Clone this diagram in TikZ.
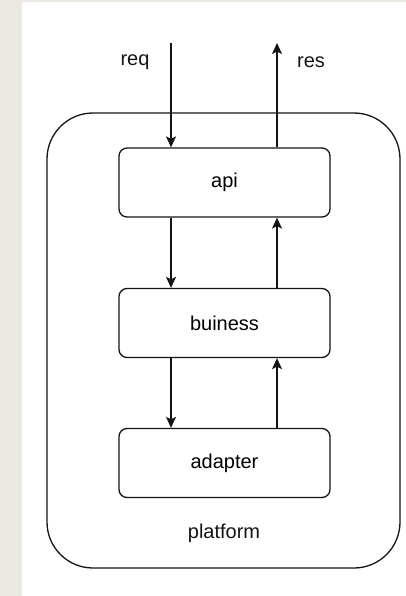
\documentclass[tikz,border=0pt]{standalone}
\usepackage{fontspec}
\setmainfont{Liberation Sans}
\usetikzlibrary{arrows.meta}
\definecolor{paper}{RGB}{236,232,228}
\definecolor{ink}{RGB}{20,20,20}
\begin{document}
\begin{tikzpicture}[x=1pt,y=-1pt,
  box/.style={draw=ink,line width=1.3pt,rounded corners=8pt,minimum width=211pt,minimum height=69pt,inner sep=0pt,font=\fontsize{20}{24}\selectfont},
  lbl/.style={font=\fontsize{20}{24}\selectfont,inner sep=0pt,text=ink},
  arr/.style={draw=ink,line width=1.3pt,-{Stealth[length=11pt,width=10pt,inset=2.5pt]}}]
\useasboundingbox (0,0) rectangle (406,596);
\fill[paper] (0,0) rectangle (406,596);
\fill[white] (22,2) rectangle (406,596);
\draw[ink,line width=1.3pt,rounded corners=46pt] (47,113) rectangle (400,568);
\node[box] (api) at (224.5,182.5) {api};
\node[box] (bus) at (224.5,323) {buiness};
\node[box] (ada) at (224.5,463) {adapter};
\node[lbl] (plat) at (224,533) {platform};
\coordinate (reqs) at (171,43);
\coordinate (rese) at (277,43);
\node[lbl] (req) at (135,62) {req};
\node[lbl] (res) at (311,62) {res};
\draw[arr] (reqs) -- (reqs|-api.north);
\draw[arr] (rese|-api.north) -- (rese);
\draw[arr] (reqs|-api.south) -- (reqs|-bus.north);
\draw[arr] (rese|-bus.north) -- (rese|-api.south);
\draw[arr] (reqs|-bus.south) -- (reqs|-ada.north);
\draw[arr] (rese|-ada.north) -- (rese|-bus.south);
\end{tikzpicture}
\end{document}
